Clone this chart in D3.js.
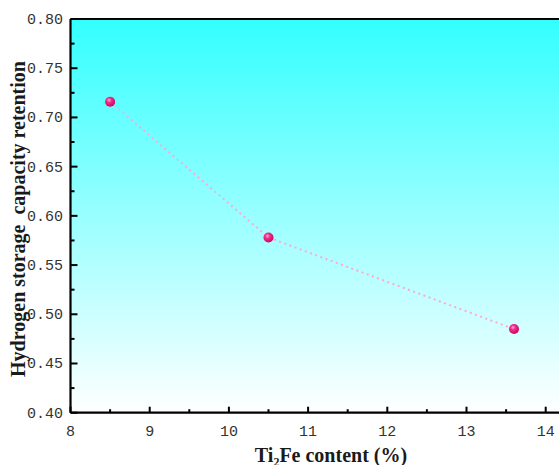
<!DOCTYPE html>
<html><head><meta charset="utf-8">
<script src="https://cdn.jsdelivr.net/npm/d3@7"></script>
<style>body{margin:0;background:#fff}svg{display:block}</style>
</head><body>
<svg id="c" width="559" height="465"></svg>
<script>
const xValues = [8.5, 10.5, 13.6];
const yValues = [0.716, 0.578, 0.485];
const xTicks = [8, 9, 10, 11, 12, 13, 14];
const yTicks = [0.40, 0.45, 0.50, 0.55, 0.60, 0.65, 0.70, 0.75, 0.80];
const xTitle = "Ti\u2082Fe content (%)";
const yTitle = "Hydrogen storage  capacity retention";

(function(){
const svg = d3.select("#c");
const pL = 70.5, pT = 19, pB = 412.7;
const x = d3.scaleLinear().domain([8, 14]).range([pL, 545.7]);
const y = d3.scaleLinear().domain([0.4, 0.8]).range([pB, pT]);
const pR = x(14.3);

const defs = svg.append("defs");
const lg = defs.append("linearGradient").attr("id","bg").attr("x1",0).attr("y1",0).attr("x2",0).attr("y2",1);
lg.append("stop").attr("offset","0%").attr("stop-color","#33ffff");
lg.append("stop").attr("offset","100%").attr("stop-color","#ffffff");
const rg = defs.append("radialGradient").attr("id","ball").attr("cx","40%").attr("cy","35%").attr("r","65%");
rg.append("stop").attr("offset","0%").attr("stop-color","#ffb0d8");
rg.append("stop").attr("offset","35%").attr("stop-color","#f0308c");
rg.append("stop").attr("offset","100%").attr("stop-color","#d0005e");

svg.append("rect").attr("x",pL).attr("y",pT).attr("width",pR-pL).attr("height",pB-pT).attr("fill","url(#bg)");

const xMinor = d3.range(8.5, 14.5, 1);
const yMinor = d3.range(0.425, 0.8, 0.05);
const g = svg.append("g");
g.selectAll(".xmaj").data(xTicks).join("line").attr("class","xmaj").attr("x1",d=>x(d)).attr("x2",d=>x(d)).attr("y1",pB).attr("y2",pB-6).attr("stroke","#000").attr("stroke-width",2);
g.selectAll(".xmin").data(xMinor).join("line").attr("class","xmin").attr("x1",d=>x(d)).attr("x2",d=>x(d)).attr("y1",pB).attr("y2",pB-3.5).attr("stroke","#000").attr("stroke-width",2);
g.selectAll(".ymaj").data(yTicks).join("line").attr("class","ymaj").attr("x1",pL).attr("x2",pL+7).attr("y1",d=>y(d)).attr("y2",d=>y(d)).attr("stroke","#000").attr("stroke-width",2);
g.selectAll(".ymin").data(yMinor).join("line").attr("class","ymin").attr("x1",pL).attr("x2",pL+4).attr("y1",d=>y(d)).attr("y2",d=>y(d)).attr("stroke","#000").attr("stroke-width",2);

svg.append("line").attr("x1",pL).attr("x2",pR).attr("y1",pB).attr("y2",pB).attr("stroke","#000").attr("stroke-width",2.2);
svg.append("line").attr("x1",pL).attr("x2",pR).attr("y1",pT).attr("y2",pT).attr("stroke","#000").attr("stroke-width",2.2);
svg.append("line").attr("x1",pL).attr("x2",pL).attr("y1",pT).attr("y2",pB).attr("stroke","#000").attr("stroke-width",2.2);

svg.append("g").selectAll("text").data(xTicks).join("text")
  .attr("x",d=>x(d)).attr("y",436).attr("text-anchor","middle")
  .attr("font-family","Liberation Mono, DejaVu Sans Mono, monospace").attr("font-size",15).attr("fill","#333")
  .text(d=>d);
svg.append("g").selectAll("text").data(yTicks).join("text")
  .attr("x",63).attr("y",d=>y(d)+5).attr("text-anchor","end")
  .attr("font-family","Liberation Mono, DejaVu Sans Mono, monospace").attr("font-size",15).attr("fill","#333")
  .text(d=>d.toFixed(2));

const pts = xValues.map((v,i)=>[v, yValues[i]]);
svg.append("path").datum(pts).attr("d", d3.line().x(d=>x(d[0])).y(d=>y(d[1])))
  .attr("fill","none").attr("stroke","#ffa8d6").attr("stroke-width",2).attr("stroke-dasharray","2,3.5");
svg.append("g").selectAll("circle").data(pts).join("circle")
  .attr("cx",d=>x(d[0])).attr("cy",d=>y(d[1])).attr("r",5).attr("fill","url(#ball)");

svg.append("text").attr("x",331).attr("y",462).attr("text-anchor","middle")
  .attr("font-family","Liberation Serif, Times New Roman, serif").attr("font-weight","bold").attr("font-size",20).attr("fill","#1a1a1a")
  .text(xTitle);
svg.append("text").attr("transform","translate(25,219) rotate(-90)").attr("text-anchor","middle")
  .attr("font-family","Liberation Serif, Times New Roman, serif").attr("font-weight","bold").attr("font-size",20).attr("fill","#1a1a1a")
  .style("white-space","pre").text(yTitle);
})();
</script>
</body></html>
